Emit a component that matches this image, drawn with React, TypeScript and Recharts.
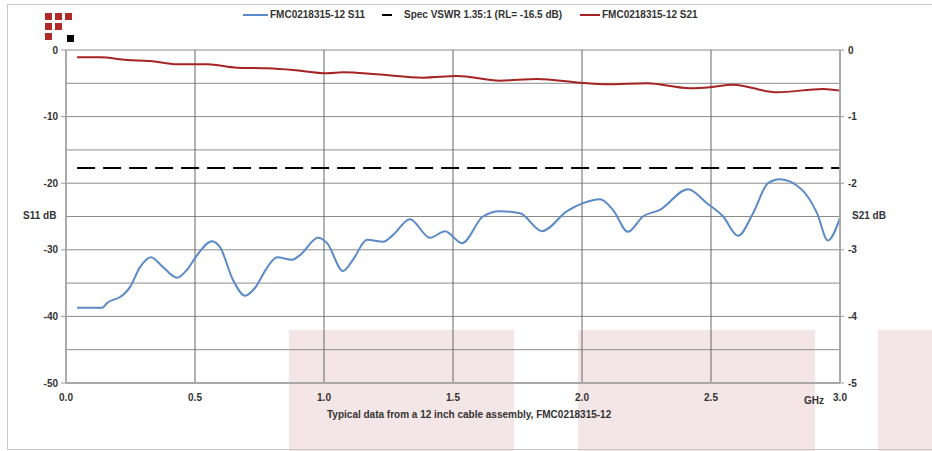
import { CartesianGrid, Line, LineChart, XAxis, YAxis } from "recharts";

// S11 return loss, left axis (dB)
const S11_FREQ = [
  0.043, 0.14, 0.159, 0.221, 0.248, 0.287, 0.329, 0.376, 0.43, 0.469, 0.508, 0.566, 0.597, 0.647, 0.694,
  0.733, 0.779, 0.818, 0.876, 0.907, 0.977, 1.012, 1.074, 1.112, 1.167, 1.229, 1.267, 1.333, 1.411, 1.469,
  1.535, 1.616, 1.682, 1.76, 1.845, 1.942, 2.004, 2.07, 2.12, 2.178, 2.236, 2.302, 2.411, 2.484, 2.547,
  2.605, 2.663, 2.721, 2.767, 2.853, 2.911, 2.953, 3.0,
];
const S11_DB = [
  -38.7, -38.7, -38.0, -36.8, -35.6, -32.6, -31.1, -32.6, -34.2, -33.0, -30.8, -28.7, -29.6, -34.5, -36.9,
  -35.7, -32.7, -31.1, -31.5, -30.8, -28.2, -29.0, -33.2, -31.5, -28.5, -28.8, -27.8, -25.4, -28.2, -27.2,
  -29.0, -25.0, -24.2, -24.5, -27.2, -24.2, -23.0, -22.4, -24.0, -27.3, -25.0, -24.0, -20.9, -23.0, -25.0,
  -27.9, -24.5, -20.0, -19.4, -21.0, -24.5, -28.6, -25.2,
];

// S21 insertion loss, right axis (dB)
const S21_FREQ = [
  0.043, 0.132, 0.236, 0.326, 0.43, 0.547, 0.663, 0.779, 0.88, 1.012, 1.074, 1.205, 1.384, 1.516, 1.682,
  1.826, 1.992, 2.097, 2.252, 2.419, 2.496, 2.585, 2.756, 2.934, 3.0,
];
const S21_DB = [
  -0.11, -0.11, -0.15, -0.165, -0.215, -0.215, -0.265, -0.275, -0.3, -0.35, -0.335, -0.365, -0.415, -0.39,
  -0.46, -0.435, -0.49, -0.515, -0.5, -0.575, -0.56, -0.52, -0.635, -0.585, -0.61,
];

// spec limit line as drawn
const SPEC_FREQ = [0.043, 3.0];
const SPEC_DB = [-17.7, -17.7];

const X_TICKS = [0, 0.5, 1, 1.5, 2, 2.5, 3];
const S11_TICKS = [-50, -45, -40, -35, -30, -25, -20, -15, -10, -5, 0];
const S21_TICKS = [-5, -4, -3, -2, -1, 0];

const FONT = '"Liberation Sans", Arial, sans-serif';
const INK = "#333";
const BLUE = "#5b8bc6";
const RED = "#a52323";

const rows = (freq: number[], vals: number[]) => freq.map((f, i) => ({ f, v: vals[i] }));

const LOGO = [
  [1, 1, 1],
  [1, 1, 0],
  [1, 0, 2],
];

function Logo() {
  return (
    <div style={{ position: "absolute", left: 45, top: 13 }}>
      {LOGO.map((r, ri) =>
        r.map((c, ci) =>
          c ? (
            <div
              key={`${ri}-${ci}`}
              style={{
                position: "absolute",
                left: ci * 10 + (c === 2 ? 2 : 0),
                top: ri * 10 + (c === 2 ? 2 : 0),
                width: 7,
                height: 7,
                background: c === 2 ? "#000" : "#b02a2a",
              }}
            />
          ) : null,
        ),
      )}
    </div>
  );
}

function LegendItem({ left, swatch, color, dashed, label }: { left: number; swatch: number; color: string; dashed?: boolean; label: string }) {
  return (
    <div style={{ position: "absolute", left, top: 9, display: "flex", alignItems: "center", gap: dashed ? 12 : 2 }}>
      <span style={{ display: "inline-block", width: swatch, height: 2, background: color }} />
      <span style={{ fontSize: 10, fontWeight: 700, color: INK, whiteSpace: "nowrap" }}>{label}</span>
    </div>
  );
}

// left axis: gridline every 5 dB, but label + tick mark only every 10
function S11Tick(props: any) {
  const { x, y, payload } = props;
  if (payload.value % 10 !== 0) return <g />;
  return (
    <g>
      <line x1={x + 3} x2={x + 8} y1={y} y2={y} stroke="#999" />
      <text x={x} y={y} dy="0.355em" textAnchor="end" fontSize={10} fontWeight={700} fill={INK} fontFamily={FONT}>
        {payload.value}
      </text>
    </g>
  );
}

const text = (extra: React.CSSProperties): React.CSSProperties => ({
  position: "absolute",
  fontSize: 10,
  fontWeight: 700,
  color: INK,
  whiteSpace: "nowrap",
  ...extra,
});

export default function App() {
  const tick = { fontSize: 10, fontWeight: 700, fill: INK, fontFamily: FONT };
  return (
    <div style={{ position: "absolute", left: 0, top: 0, width: 932, height: 451, background: "#fff", fontFamily: FONT, overflow: "hidden" }}>
      {/* faint pink blocks behind the plot */}
      <div style={{ position: "absolute", left: 289, top: 330, width: 225, height: 121, background: "#f4e6e6" }} />
      <div style={{ position: "absolute", left: 578, top: 330, width: 237, height: 121, background: "#f4e6e6" }} />
      <div style={{ position: "absolute", left: 878, top: 330, width: 54, height: 121, background: "#f4e6e6" }} />
      <div style={{ position: "absolute", left: 7, top: 4, width: 940, height: 444, border: "1px solid #c8c8c8" }} />

      <Logo />
      <LegendItem left={243} swatch={25} color={BLUE} label="FMC0218315-12 S11" />
      <LegendItem left={382} swatch={10} color="#000" dashed label="Spec VSWR 1.35:1 (RL= -16.5 dB)" />
      <LegendItem left={580} swatch={20} color={RED} label="FMC0218315-12 S21" />

      <div style={{ position: "absolute", left: 0, top: 0 }}>
        <LineChart width={932} height={451} margin={{ top: 50, right: 52, bottom: 38, left: 26 }}>
          <CartesianGrid yAxisId="l" vertical={false} stroke="#8c8c8c" />
          <CartesianGrid yAxisId="l" horizontal={false} stroke="#666" />
          <XAxis
            dataKey="f"
            type="number"
            domain={[0, 3]}
            ticks={X_TICKS}
            tickFormatter={(v: number) => v.toFixed(1)}
            tick={tick}
            tickLine={false}
            tickMargin={5}
            axisLine={{ stroke: "#a8a8a8", strokeWidth: 2 }}
            height={30}
            interval={0}
          />
          <YAxis
            yAxisId="l"
            domain={[-50, 0]}
            ticks={S11_TICKS}
            tick={<S11Tick />}
            tickSize={5}
            tickMargin={3}
            tickLine={false}
            axisLine={{ stroke: "#a8a8a8", strokeWidth: 1.5 }}
            width={40}
            interval={0}
          />
          <YAxis
            yAxisId="r"
            orientation="right"
            domain={[-5, 0]}
            ticks={S21_TICKS}
            tick={tick}
            tickSize={4}
            tickMargin={4}
            tickLine={{ stroke: "#999" }}
            axisLine={{ stroke: "#a8a8a8", strokeWidth: 1.5 }}
            width={40}
            interval={0}
          />
          <Line
            yAxisId="l"
            data={rows(SPEC_FREQ, SPEC_DB)}
            dataKey="v"
            type="linear"
            stroke="#000"
            strokeWidth={2}
            strokeDasharray="18 8"
            dot={false}
            isAnimationActive={false}
          />
          <Line
            yAxisId="l"
            data={rows(S11_FREQ, S11_DB)}
            dataKey="v"
            type="monotone"
            stroke={BLUE}
            strokeWidth={2}
            dot={false}
            isAnimationActive={false}
          />
          <Line
            yAxisId="r"
            data={rows(S21_FREQ, S21_DB)}
            dataKey="v"
            type="monotone"
            stroke={RED}
            strokeWidth={2}
            dot={false}
            isAnimationActive={false}
          />
        </LineChart>
      </div>

      <div style={text({ left: 23, top: 210 })}>S11 dB</div>
      <div style={text({ left: 852, top: 210 })}>S21 dB</div>
      <div style={text({ left: 804, top: 395 })}>GHz</div>
      <div style={text({ left: 327, top: 409 })}>Typical data from a 12 inch cable assembly, FMC0218315-12</div>
    </div>
  );
}
